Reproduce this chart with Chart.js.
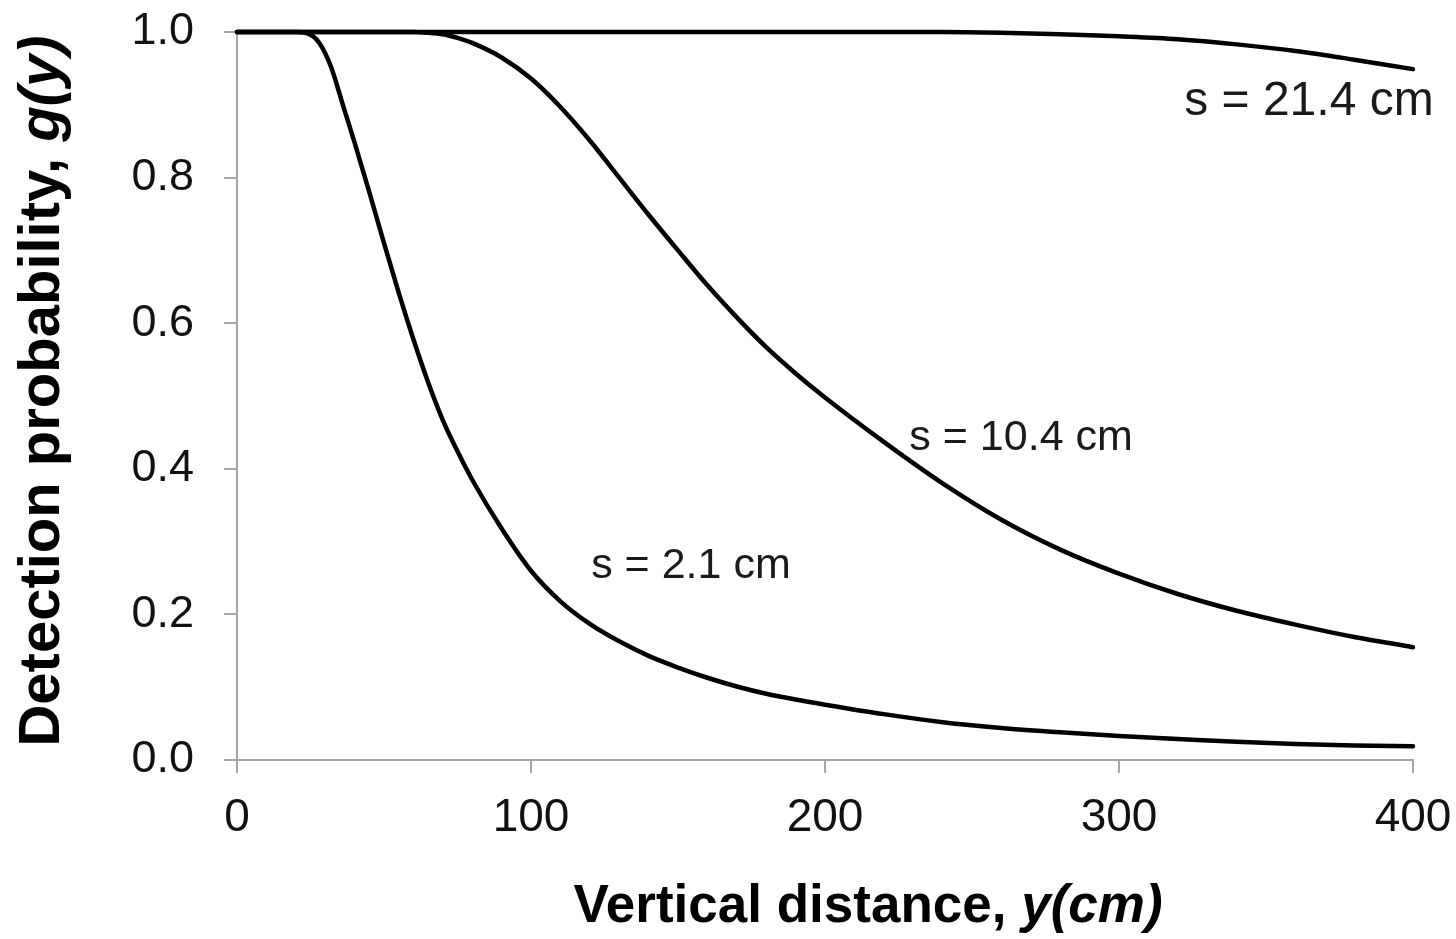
<!DOCTYPE html>
<html lang="en">

<head>
  <meta charset="UTF-8">
  <title>Detection probability</title>
  <script src="https://cdn.jsdelivr.net/npm/chart.js@4.4.1/dist/chart.umd.min.js"></script>
  <style>
    html, body { margin: 0; padding: 0; background: #fff; }
    #detection-chart { display: block; }
  </style>
</head>

<body>
  <canvas id="detection-chart" width="1456" height="939"></canvas>

  <script>
    // vertical distance (cm), shared by the three curves
    var distance = [0, 10, 20, 24, 28, 32, 36, 40, 45, 50, 55, 60, 65, 70, 75, 80, 90, 100,
      110, 120, 130, 140, 150, 160, 170, 180, 190, 200, 220, 240, 260, 280, 300,
      320, 340, 360, 380, 400];

    // g(y), one list per s
    var prob_s21 = [1, 1, 1, 1, 1, 1, 1, 1, 1, 1, 1, 1, 1, 1, 1, 1, 1, 1,
      1, 1, 1, 1, 1, 1, 1, 1, 1, 1, 1, 1, 0.999, 0.997, 0.994,
      0.990, 0.983, 0.974, 0.962, 0.949];

    var prob_s10 = [1, 1, 1, 1, 1, 1, 1, 1, 1, 1, 1, 1, 0.999, 0.997, 0.992, 0.985, 0.965, 0.936,
      0.897, 0.851, 0.80, 0.749, 0.700, 0.652, 0.608, 0.567, 0.531, 0.498, 0.437, 0.38, 0.33, 0.289, 0.256,
      0.228, 0.205, 0.186, 0.169, 0.155];

    var prob_s2 = [1, 1, 1, 0.998, 0.985, 0.952, 0.90, 0.848, 0.78, 0.71, 0.642, 0.578, 0.519, 0.467, 0.424, 0.385, 0.318, 0.260,
      0.218, 0.187, 0.163, 0.143, 0.127, 0.113, 0.101, 0.091, 0.083, 0.076, 0.063, 0.052, 0.044, 0.038, 0.033,
      0.029, 0.025, 0.022, 0.020, 0.019];

    var seriesNames = ["s = 21.4 cm", "s = 10.4 cm", "s = 2.1 cm"];
    var xTicks = [0, 100, 200, 300, 400];
    var yTicks = [0, 0.2, 0.4, 0.6, 0.8, 1.0];

    var FONT = "'Liberation Sans', Arial, sans-serif";
    var AXIS_GREY = "#a6a6a6";

    function toPoints(ys) {
      return distance.map(function (d, i) { return { x: d, y: ys[i] }; });
    }

    function curve(label, ys) {
      return {
        label: label,
        data: toPoints(ys),
        borderColor: "#000",
        borderWidth: 4.5,
        borderCapStyle: "round",
        pointRadius: 0,
        fill: false,
        cubicInterpolationMode: "monotone",
        clip: false
      };
    }

    // curve labels, placed in data units next to each line
    var curveLabels = [
      { text: seriesNames[0], x: 364.6, y: 0.904, size: 48 },
      { text: seriesNames[1], x: 266.7, y: 0.442, size: 43 },
      { text: seriesNames[2], x: 154.4, y: 0.266, size: 43 }
    ];

    // bold axis titles with an italic tail, drawn by hand
    var textPlugin = {
      id: "curveText",
      afterDraw: function (chart) {
        var ctx = chart.ctx;
        var xs = chart.scales.x, ys = chart.scales.y;
        ctx.save();
        ctx.fillStyle = "#1a1a1a";
        ctx.textAlign = "center";
        ctx.textBaseline = "middle";
        curveLabels.forEach(function (l) {
          ctx.font = l.size + "px " + FONT;
          ctx.fillText(l.text, xs.getPixelForValue(l.x), ys.getPixelForValue(l.y));
        });

        ctx.fillStyle = "#000";
        ctx.textAlign = "left";
        ctx.textBaseline = "alphabetic";

        // x title
        var xParts = [
          { t: "Vertical distance, ", f: "bold 53px " + FONT },
          { t: "y(cm)", f: "italic bold 53px " + FONT }
        ];
        drawParts(ctx, xParts, 868, 922);

        // y title, rotated
        var yParts = [
          { t: "Detection probability, ", f: "bold 58px " + FONT },
          { t: "g(y)", f: "italic bold 58px " + FONT }
        ];
        ctx.translate(59, 391);
        ctx.rotate(-Math.PI / 2);
        drawParts(ctx, yParts, 0, 0);
        ctx.restore();
      }
    };

    function drawParts(ctx, parts, cx, baseY) {
      var total = 0;
      parts.forEach(function (p) { ctx.font = p.f; total += ctx.measureText(p.t).width; });
      var x = cx - total / 2;
      parts.forEach(function (p) {
        ctx.font = p.f;
        ctx.fillText(p.t, x, baseY);
        x += ctx.measureText(p.t).width;
      });
    }

    var chart = new Chart("detection-chart", {
      type: "line",
      data: {
        datasets: [
          curve(seriesNames[0], prob_s21),
          curve(seriesNames[1], prob_s10),
          curve(seriesNames[2], prob_s2)
        ]
      },
      options: {
        responsive: false,
        animation: false,
        layout: { padding: { top: 32, right: 43, left: 0, bottom: 0 } },
        plugins: {
          legend: { display: false },
          tooltip: { enabled: false }
        },
        scales: {
          x: {
            type: "linear",
            min: 0,
            max: 400,
            afterBuildTicks: function (scale) {
              scale.ticks = xTicks.map(function (v) { return { value: v }; });
            },
            afterFit: function (scale) {
              scale.height = 179;
              scale.paddingLeft = 0;
              scale.paddingRight = 0;
            },
            grid: { drawOnChartArea: false, drawTicks: true, tickLength: 13, color: AXIS_GREY, lineWidth: 2 },
            border: { display: true, color: AXIS_GREY, width: 2 },
            ticks: {
              color: "#111",
              padding: 18,
              maxRotation: 0,
              font: { family: FONT, size: 46 }
            }
          },
          y: {
            type: "linear",
            min: 0,
            max: 1,
            afterBuildTicks: function (scale) {
              scale.ticks = yTicks.map(function (v) { return { value: v }; });
            },
            afterFit: function (scale) {
              scale.width = 237;
              scale.paddingTop = 0;
              scale.paddingBottom = 0;
            },
            grid: { drawOnChartArea: false, drawTicks: true, tickLength: 13, color: AXIS_GREY, lineWidth: 2 },
            border: { display: true, color: AXIS_GREY, width: 2 },
            ticks: {
              color: "#111",
              padding: 30,
              font: { family: FONT, size: 45 },
              callback: function (v) { return Number(v).toFixed(1); }
            }
          }
        }
      },
      plugins: [textPlugin]
    });
  </script>
</body>

</html>
